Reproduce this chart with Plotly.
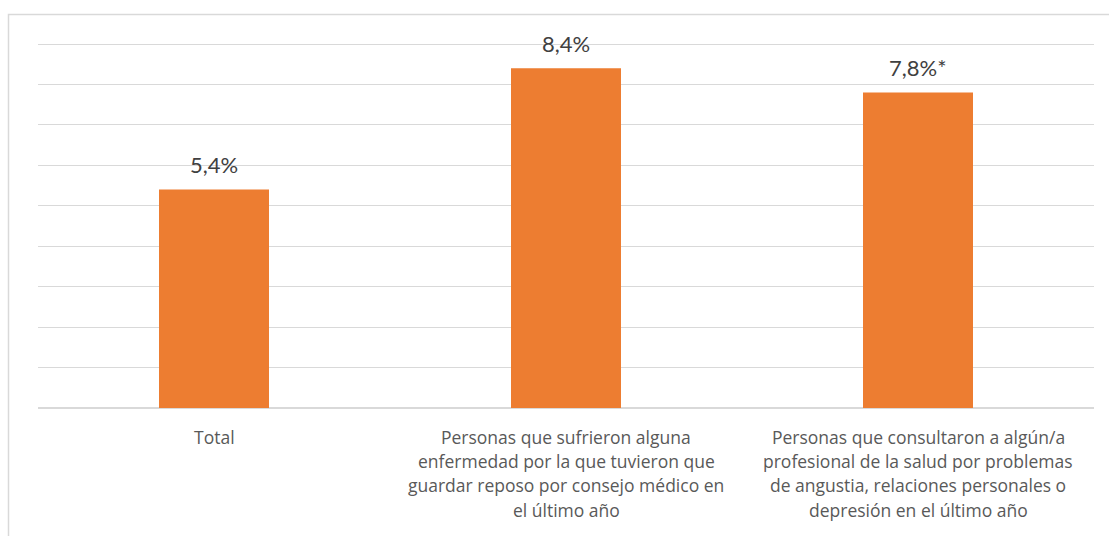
import plotly.graph_objects as go

# Categories (each label split into its printed lines)
categories = ["Total", "Enfermedad con reposo", "Consulta salud mental"]
category_lines = [
    ["Total"],
    ["Personas que sufrieron alguna",
     "enfermedad por la que tuvieron que",
     "guardar reposo por consejo médico en",
     "el último año"],
    ["Personas que consultaron a algún/a",
     "profesional de la salud por problemas",
     "de angustia, relaciones personales o",
     "depresión en el último año"],
]
values = [5.4, 8.4, 7.8]
label_suffix = ["", "", "*"]

BAR_COLOR = "#ED7D31"
GRID_COLOR = "#D9D9D9"
VALUE_FONT = "Lato, Calibri, sans-serif"
CAT_FONT = "'Open Sans', sans-serif"

W, H = 1109, 536
M_L, M_R, M_T, M_B = 38, 15, 42, 128
plot_w = W - M_L - M_R
plot_h = H - M_T - M_B
Y_MAX = 9.05

x_idx = list(range(len(categories)))

fig = go.Figure(
    go.Bar(
        x=x_idx,
        y=values,
        marker=dict(color=BAR_COLOR, line=dict(width=0)),
        hoverinfo="skip",
    )
)

annotations = []
# Value labels above the bars
for i, (v, suf) in enumerate(zip(values, label_suffix)):
    annotations.append(dict(
        x=i, y=v, xref="x", yref="y",
        text=f"{v:.1f}".replace(".", ",") + "%" + suf,
        showarrow=False, yanchor="middle", yshift=25,
        font=dict(family=VALUE_FONT, size=22, color="#404040"),
    ))

# Category labels below the axis, one annotation per line
LINE_STEP = 24.4
for i, lines in enumerate(category_lines):
    for k, line in enumerate(lines):
        annotations.append(dict(
            x=i, y=0, xref="x", yref="paper",
            text=line, showarrow=False, yanchor="middle",
            yshift=-28.5 - k * LINE_STEP,
            font=dict(family=CAT_FONT, size=17.5, color="#595959"),
        ))

# Chart-area border (runs past the right and bottom edges)
bx0 = (8.5 - M_L) / plot_w
by1 = 1 + (M_T - 14.5) / plot_h

fig.update_layout(
    width=W, height=H,
    margin=dict(l=M_L, r=M_R, t=M_T, b=M_B, pad=0),
    paper_bgcolor="white", plot_bgcolor="white",
    showlegend=False,
    bargap=0.6875,
    xaxis=dict(range=[-0.5, 2.5], showticklabels=False, showgrid=False,
               zeroline=False, showline=False, ticks=""),
    yaxis=dict(range=[0, Y_MAX], dtick=1, showticklabels=False, showgrid=True,
               gridcolor=GRID_COLOR, gridwidth=1.2, zeroline=True,
               zerolinecolor=GRID_COLOR, zerolinewidth=1.5, showline=False,
               ticks=""),
    annotations=annotations,
    shapes=[dict(type="rect", xref="paper", yref="paper",
                 x0=bx0, x1=1.2, y0=-0.6, y1=by1,
                 line=dict(color=GRID_COLOR, width=1.5),
                 fillcolor="rgba(0,0,0,0)", layer="below")],
)

fig.write_html("out.html", config={"displayModeBar": False})
